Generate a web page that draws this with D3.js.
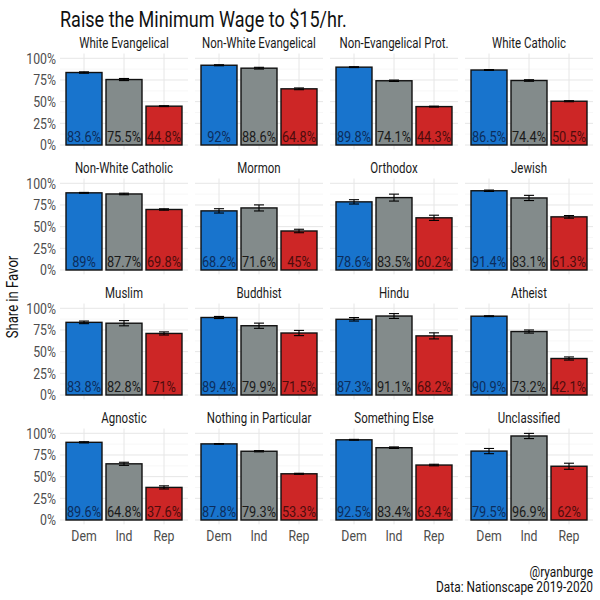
<!DOCTYPE html>
<html><head><meta charset="utf-8">
<script src="https://cdn.jsdelivr.net/npm/d3@7"></script>
<style>
body{margin:0;background:#fff;}
svg{font-family:Roboto,"Noto Sans",sans-serif;}
</style></head><body>
<svg id="c" width="600" height="600"></svg>
<script>
const groups = ["White Evangelical","Non-White Evangelical","Non-Evangelical Prot.","White Catholic",
  "Non-White Catholic","Mormon","Orthodox","Jewish",
  "Muslim","Buddhist","Hindu","Atheist",
  "Agnostic","Nothing in Particular","Something Else","Unclassified"];
const parties = ["Dem","Ind","Rep"];
const demVals = [83.6,92,89.8,86.5, 89,68.2,78.6,91.4, 83.8,89.4,87.3,90.9, 89.6,87.8,92.5,79.5];
const indVals = [75.5,88.6,74.1,74.4, 87.7,71.6,83.5,83.1, 82.8,79.9,91.1,73.2, 64.8,79.3,83.4,96.9];
const repVals = [44.8,64.8,44.3,50.5, 69.8,45,60.2,61.3, 71,71.5,68.2,42.1, 37.6,53.3,63.4,62];
const demErr = [0.8,0.6,0.5,0.5, 0.5,2.5,2.5,0.8, 1.5,1.2,2.0,0.5, 0.7,0.4,0.5,3.0];
const indErr = [1.2,1.0,0.8,0.9, 0.9,3.5,4.0,3.0, 3.0,3.0,2.8,1.8, 1.8,0.7,0.9,3.0];
const repErr = [0.5,1.0,0.5,0.6, 0.8,2.0,3.0,1.5, 1.8,3.0,3.5,1.8, 1.8,0.6,0.9,3.5];
const yTicks = [0,25,50,75,100];
const colors = ["#1874CD","#838B8B","#CD2626"];
const textColors = ["#0b2d5c","#1a1a1a","#4d0c0c"];

const svg = d3.select("#c");
const SX = 0.82;
function txt(parent,x,y,s,size,fill,anchor,rot,sx){
  return parent.append("text")
    .attr("transform",`translate(${x},${y})${rot?` rotate(${rot})`:""} scale(${sx||SX},1)`)
    .attr("text-anchor",anchor||"start").attr("font-size",size).attr("fill",fill).text(s);
}

txt(svg,60,27,"Raise the Minimum Wage to $15/hr.",22,"#111","start");

const colX0 = 60, colStep = 135, pW = 128;
const rowY0 = 145, rowStep = 125, pxPerUnit = 0.867;

groups.forEach((g,i)=>{
  const col = i%4, row = Math.floor(i/4);
  const left = colX0 + col*colStep;
  const zeroY = rowY0 + row*rowStep;
  const x = d3.scaleBand().domain(parties).range([left,left+pW]).paddingInner(0.1).paddingOuter(0.15);
  const y = d3.scaleLinear().domain([0,100]).range([zeroY, zeroY-100*pxPerUnit]);
  const top = y(105.5), bot = y(-5);
  const p = svg.append("g");
  [12.5,37.5,62.5,87.5].forEach(t=>{
    p.append("line").attr("x1",left).attr("x2",left+pW).attr("y1",y(t)).attr("y2",y(t))
      .attr("stroke","#f2f2f2").attr("stroke-width",0.6);
  });
  yTicks.forEach(t=>{
    p.append("line").attr("x1",left).attr("x2",left+pW).attr("y1",y(t)).attr("y2",y(t))
      .attr("stroke","#e6e6e6").attr("stroke-width",1);
  });
  parties.forEach(pt=>{
    const cx = x(pt)+x.bandwidth()/2;
    p.append("line").attr("x1",cx).attr("x2",cx).attr("y1",top).attr("y2",bot)
      .attr("stroke","#e6e6e6").attr("stroke-width",1);
  });
  const vals = [demVals[i],indVals[i],repVals[i]];
  const errs = [demErr[i],indErr[i],repErr[i]];
  parties.forEach((pt,k)=>{
    const v = vals[k];
    p.append("rect").attr("x",x(pt)).attr("width",x.bandwidth())
      .attr("y",y(v)).attr("height",y(0)-y(v))
      .attr("fill",colors[k]).attr("stroke","#111").attr("stroke-width",1.4);
  });
  parties.forEach((pt,k)=>{
    const v = vals[k], e = errs[k];
    const cx = x(pt)+x.bandwidth()/2;
    const hw = x.bandwidth()*0.14;
    const eb = p.append("g").attr("stroke","#000").attr("stroke-width",1.1);
    eb.append("line").attr("x1",cx).attr("x2",cx).attr("y1",y(v-e)).attr("y2",y(v+e));
    eb.append("line").attr("x1",cx-hw).attr("x2",cx+hw).attr("y1",y(v-e)).attr("y2",y(v-e));
    eb.append("line").attr("x1",cx-hw).attr("x2",cx+hw).attr("y1",y(v+e)).attr("y2",y(v+e));
  });
  parties.forEach((pt,k)=>{
    const cx = x(pt)+x.bandwidth()/2;
    txt(p,cx,y(0)-3.5,vals[k]+"%",14.5,textColors[k],"middle",0,0.88);
  });
  txt(p,left+pW/2,top-6,g,14,"#1a1a1a","middle");
  if(col===0){
    yTicks.forEach(t=>{
      txt(p,56,y(t)+5.2,t+"%",15,"#4d4d4d","end");
    });
  }
  if(row===3){
    parties.forEach(pt=>{
      txt(p,x(pt)+x.bandwidth()/2,zeroY+21,pt,15,"#4d4d4d","middle");
    });
  }
});

txt(svg,18,297,"Share in Favor",16,"#111","middle",-90);
txt(svg,593,577,"@ryanburge",14.5,"#111","end");
txt(svg,593,592,"Data: Nationscape 2019-2020",14.5,"#111","end");
</script>
</body></html>
